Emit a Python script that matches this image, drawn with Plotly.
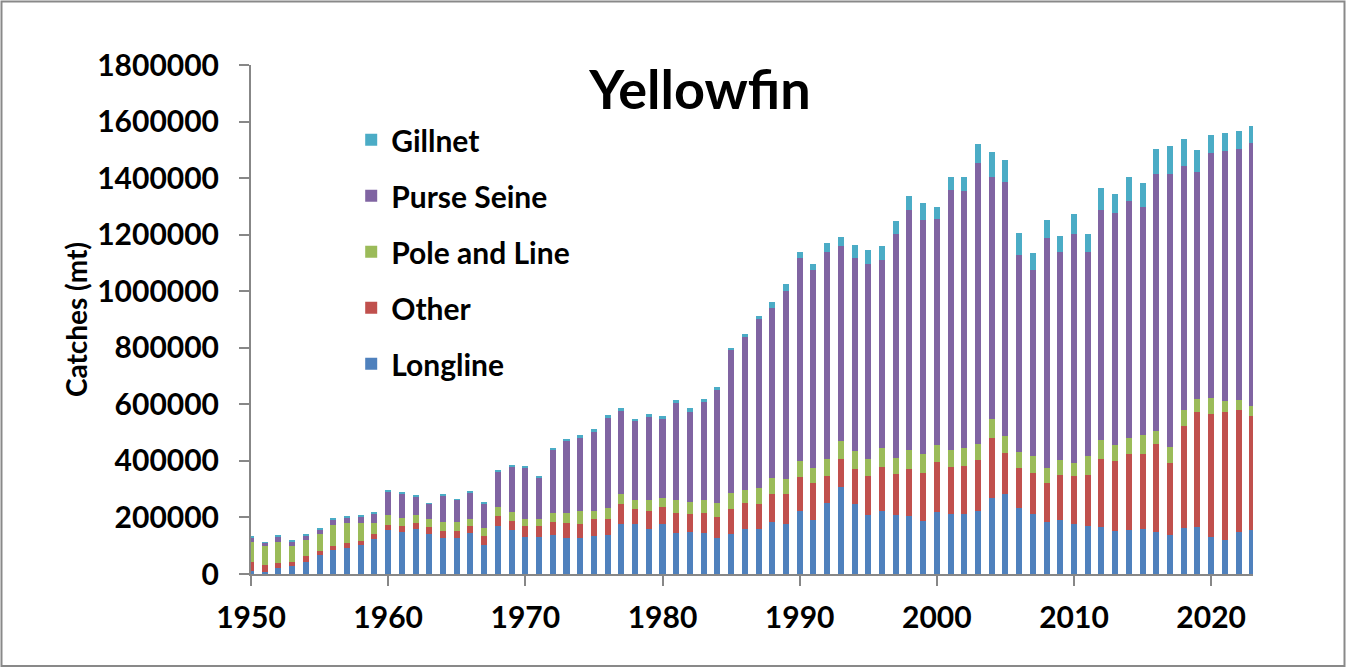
import plotly.graph_objects as go

# Années et captures (tonnes) par engin
years = list(range(1950, 2024))

longline = [11000, 7000, 22000, 28000, 42000, 67000, 86000, 93000, 103000, 124000,
            157000, 150000, 159000, 143000, 129000, 129000, 145000, 103000, 171000, 157000,
            131000, 131000, 137000, 127000, 127000, 135000, 137000, 177000, 177000, 158000,
            177000, 144000, 149000, 144000, 127000, 142000, 158000, 158000, 184000, 177000,
            222000, 191000, 251000, 308000, 249000, 208000, 222000, 208000, 205000, 186000,
            219000, 212000, 212000, 222000, 269000, 283000, 234000, 212000, 184000, 191000,
            177000, 170000, 165000, 151000, 156000, 158000, 149000, 137000, 163000, 165000,
            130000, 120000, 149000, 156000]

other = [32000, 25000, 17000, 14000, 22000, 14000, 13000, 17000, 14000, 18000,
         16000, 20000, 22000, 23000, 23000, 23000, 25000, 32000, 34000, 31000,
         39000, 39000, 47000, 54000, 50000, 60000, 58000, 71000, 53000, 65000,
         60000, 72000, 63000, 72000, 75000, 88000, 93000, 90000, 99000, 106000,
         120000, 130000, 96000, 99000, 123000, 139000, 157000, 145000, 167000, 172000,
         176000, 166000, 169000, 182000, 211000, 145000, 140000, 145000, 137000, 158000,
         169000, 179000, 241000, 248000, 268000, 266000, 310000, 255000, 361000, 407000,
         435000, 452000, 430000, 402000]

pole_and_line = [70000, 67000, 74000, 57000, 56000, 61000, 74000, 71000, 64000, 39000,
                 36000, 28000, 28000, 29000, 32000, 32000, 25000, 28000, 32000, 31000,
                 25000, 25000, 32000, 35000, 46000, 28000, 39000, 35000, 32000, 39000,
                 32000, 46000, 43000, 46000, 49000, 57000, 46000, 56000, 57000, 53000,
                 57000, 54000, 60000, 64000, 62000, 59000, 67000, 58000, 67000, 67000,
                 60000, 61000, 65000, 56000, 68000, 60000, 57000, 61000, 53000, 53000,
                 46000, 68000, 67000, 56000, 56000, 67000, 46000, 56000, 56000, 46000,
                 56000, 39000, 35000, 35000]

purse_seine = [16000, 11000, 18000, 17000, 15000, 16000, 21000, 18000, 24000, 34000,
               81000, 85000, 64000, 53000, 92000, 78000, 92000, 85000, 124000, 160000,
               180000, 145000, 223000, 255000, 261000, 282000, 318000, 293000, 278000, 293000,
               279000, 342000, 317000, 349000, 400000, 506000, 541000, 598000, 602000, 666000,
               718000, 701000, 733000, 690000, 685000, 691000, 666000, 793000, 850000, 828000,
               801000, 920000, 910000, 995000, 857000, 900000, 697000, 658000, 815000, 737000,
               810000, 722000, 815000, 822000, 839000, 807000, 910000, 967000, 864000, 804000,
               868000, 885000, 889000, 931000]

gillnet = [2000, 3000, 5000, 4000, 3000, 5000, 4000, 4000, 4000, 4000,
           4000, 4000, 3000, 3000, 4000, 3000, 7000, 7000, 4000, 7000,
           4000, 7000, 7000, 7000, 7000, 7000, 10000, 10000, 8000, 10000,
           10000, 11000, 14000, 7000, 11000, 6000, 10000, 10000, 20000, 24000,
           23000, 21000, 32000, 32000, 46000, 50000, 49000, 46000, 46000, 60000,
           43000, 46000, 49000, 67000, 89000, 76000, 79000, 60000, 64000, 57000,
           72000, 64000, 78000, 67000, 85000, 85000, 88000, 100000, 96000, 78000,
           64000, 62000, 63000, 59000]

series = [
    ("Longline", longline, "#4F81BD"),
    ("Other", other, "#C0504D"),
    ("Pole and Line", pole_and_line, "#9BBB59"),
    ("Purse Seine", purse_seine, "#8064A2"),
    ("Gillnet", gillnet, "#4BACC6"),
]

W, H = 1346, 668
ML, MR, MT, MB = 251, 93, 65, 94
font_bold = dict(family="Lato", color="black", weight="bold")
axis_grey = "#878787"

fig = go.Figure()
for i, (name, vals, color) in enumerate(series):
    # Gillnet en haut de la légende, Longline en bas
    fig.add_trace(go.Bar(x=years, y=vals, name=name, marker_color=color,
                         marker_line_width=0, legendgroup=name,
                         legendrank=len(series) - i))

fig.update_layout(
    width=W, height=H,
    margin=dict(l=ML, r=MR, t=MT, b=MB),
    barmode="stack",
    bargap=0.56,
    plot_bgcolor="white",
    paper_bgcolor="white",
    font=dict(**font_bold, size=30),
    title=dict(text="Yellowfin", x=700 / W, xanchor="center",
               y=1 - 90 / H, yanchor="middle",
               font=dict(**font_bold, size=54)),
    legend=dict(x=0.1, y=0.904, xanchor="left", yanchor="top",
                traceorder="grouped", tracegroupgap=14,
                font=dict(**font_bold, size=30), bgcolor="rgba(0,0,0,0)"),
    showlegend=True,
)

fig.update_xaxes(range=[1950, 2023.05], tick0=1950, dtick=10,
                 ticks="outside", ticklen=10, tickwidth=2, tickcolor=axis_grey,
                 showline=True, linewidth=2, linecolor=axis_grey,
                 showgrid=False, zeroline=False, ticklabelstandoff=6,
                 tickfont=dict(**font_bold, size=30))
fig.update_yaxes(range=[0, 1800000], dtick=200000, tickformat="d",
                 ticks="outside", ticklen=10, tickwidth=2, tickcolor=axis_grey,
                 showline=True, linewidth=2, linecolor=axis_grey,
                 showgrid=False, zeroline=False, ticklabelstandoff=14,
                 tickfont=dict(**font_bold, size=30),
                 title=dict(text="Catches (mt)", standoff=1,
                            font=dict(**font_bold, size=28)))

# cadre gris autour de la zone du graphique
pw, ph = W - ML - MR, H - MT - MB
fig.add_shape(type="rect", xref="paper", yref="paper",
              x0=(1.5 - ML) / pw, x1=(W - 1.5 - ML) / pw,
              y0=-(MB - 2) / ph, y1=1 + (MT - 1.5) / ph,
              line=dict(color="#898989", width=2), fillcolor="rgba(0,0,0,0)",
              layer="below")

# pas de marge autour de la page, pas de barre d'outils
fig.write_html("out.html", config={"displayModeBar": False},
               post_script="document.body.style.margin='0';")
